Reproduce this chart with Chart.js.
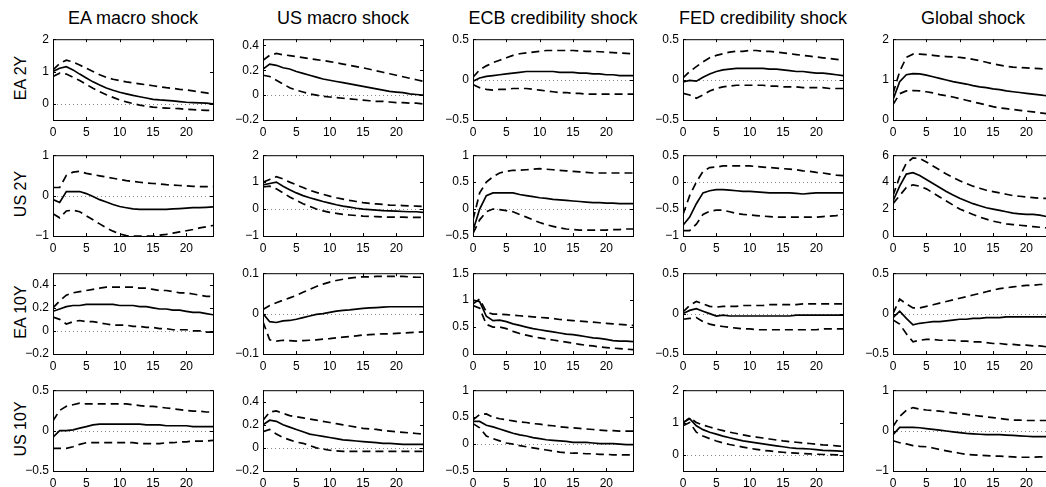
<!DOCTYPE html>
<html>
<head>
<meta charset="utf-8">
<script src="https://cdn.jsdelivr.net/npm/chart.js@4/dist/chart.umd.min.js"></script>
<style>
  body { margin: 0; background: #fff; width: 1046px; height: 487px; overflow: hidden; position: relative;
         font-family: "Liberation Sans", Arial, sans-serif; }
  .panel { position: absolute; }
  .title { position: absolute; font-size: 18px; text-align: center; width: 220px; white-space: nowrap; }
  .rowlab { position: absolute; font-size: 16px; width: 100px; text-align: center; transform: rotate(-90deg); white-space: nowrap; }
</style>
</head>
<body>
<script>
// horizon (months after shock)
const horizon = [0,1,2,3,4,5,6,7,8,9,10,11,12,13,14,15,16,17,18,19,20,21,22,23,24];
const xTicks = [0, 5, 10, 15, 20];

const shocks = ['EA macro shock', 'US macro shock', 'ECB credibility shock', 'FED credibility shock', 'Global shock'];
const yields = ['EA 2Y', 'US 2Y', 'EA 10Y', 'US 10Y'];

// ---- EA 2Y ----
const ea2y_eaMacro_mid = [1.0,1.1,1.15,1.05,0.92,0.8,0.68,0.58,0.49,0.42,0.36,0.31,0.26,0.22,0.18,0.14,0.12,0.11,0.09,0.07,0.05,0.04,0.03,0.02,0.0];
const ea2y_eaMacro_hi  = [1.05,1.25,1.35,1.3,1.2,1.1,1.0,0.9,0.82,0.76,0.72,0.68,0.65,0.62,0.59,0.56,0.53,0.5,0.48,0.45,0.43,0.4,0.37,0.34,0.3];
const ea2y_eaMacro_lo  = [0.85,0.95,0.92,0.82,0.72,0.6,0.48,0.38,0.28,0.2,0.12,0.06,0.01,-0.04,-0.07,-0.1,-0.12,-0.13,-0.14,-0.15,-0.17,-0.18,-0.19,-0.2,-0.21];

const ea2y_usMacro_mid = [0.21,0.25,0.24,0.22,0.21,0.19,0.175,0.16,0.145,0.13,0.12,0.11,0.1,0.09,0.08,0.07,0.06,0.05,0.04,0.03,0.025,0.02,0.01,0.005,0.0];
const ea2y_usMacro_hi  = [0.28,0.32,0.335,0.325,0.318,0.31,0.302,0.294,0.286,0.278,0.27,0.26,0.25,0.24,0.23,0.22,0.208,0.196,0.184,0.172,0.16,0.148,0.136,0.124,0.112];
const ea2y_usMacro_lo  = [0.16,0.15,0.12,0.09,0.06,0.04,0.025,0.01,0.0,-0.01,-0.015,-0.02,-0.025,-0.03,-0.035,-0.04,-0.045,-0.05,-0.05,-0.055,-0.06,-0.06,-0.065,-0.065,-0.07];

const ea2y_ecbCred_mid = [-0.02,0.02,0.04,0.05,0.06,0.07,0.08,0.09,0.1,0.1,0.1,0.1,0.1,0.09,0.09,0.09,0.08,0.08,0.07,0.07,0.06,0.06,0.05,0.05,0.05];
const ea2y_ecbCred_hi  = [0.03,0.12,0.17,0.21,0.24,0.27,0.3,0.32,0.33,0.34,0.35,0.36,0.36,0.36,0.36,0.36,0.355,0.35,0.35,0.345,0.34,0.335,0.33,0.325,0.32];
const ea2y_ecbCred_lo  = [-0.06,-0.1,-0.12,-0.13,-0.12,-0.12,-0.11,-0.11,-0.11,-0.12,-0.13,-0.14,-0.15,-0.16,-0.16,-0.17,-0.17,-0.18,-0.18,-0.18,-0.18,-0.18,-0.18,-0.18,-0.18];

const ea2y_fedCred_mid = [-0.03,-0.01,-0.02,0.03,0.07,0.1,0.12,0.13,0.14,0.14,0.14,0.14,0.14,0.13,0.13,0.12,0.11,0.1,0.1,0.09,0.08,0.08,0.07,0.06,0.05];
const ea2y_fedCred_hi  = [0.02,0.1,0.16,0.22,0.27,0.3,0.32,0.34,0.35,0.35,0.36,0.36,0.35,0.35,0.34,0.33,0.32,0.31,0.3,0.29,0.28,0.27,0.26,0.25,0.24];
const ea2y_fedCred_lo  = [-0.17,-0.19,-0.23,-0.19,-0.14,-0.11,-0.09,-0.08,-0.07,-0.07,-0.07,-0.07,-0.07,-0.08,-0.08,-0.09,-0.09,-0.09,-0.1,-0.1,-0.1,-0.1,-0.11,-0.11,-0.11];

const ea2y_global_mid = [0.5,0.95,1.12,1.15,1.14,1.11,1.07,1.03,0.99,0.95,0.92,0.89,0.85,0.82,0.8,0.77,0.75,0.72,0.7,0.68,0.66,0.64,0.62,0.6,0.59];
const ea2y_global_hi  = [0.65,1.2,1.55,1.63,1.63,1.62,1.6,1.58,1.57,1.56,1.55,1.53,1.5,1.47,1.43,1.39,1.36,1.33,1.31,1.3,1.29,1.28,1.27,1.26,1.25];
const ea2y_global_lo  = [0.38,0.65,0.72,0.73,0.72,0.7,0.67,0.63,0.6,0.57,0.53,0.49,0.45,0.41,0.37,0.33,0.3,0.28,0.26,0.24,0.22,0.2,0.18,0.16,0.14];

// ---- US 2Y ----
const us2y_eaMacro_mid = [-0.1,-0.17,0.1,0.1,0.1,0.05,-0.02,-0.1,-0.16,-0.22,-0.27,-0.3,-0.33,-0.34,-0.34,-0.34,-0.34,-0.34,-0.33,-0.32,-0.31,-0.3,-0.3,-0.29,-0.28];
const us2y_eaMacro_hi  = [0.2,0.2,0.5,0.58,0.6,0.55,0.52,0.49,0.46,0.43,0.4,0.37,0.35,0.33,0.31,0.3,0.29,0.27,0.26,0.25,0.24,0.23,0.22,0.22,0.22];
const us2y_eaMacro_lo  = [-0.45,-0.55,-0.38,-0.36,-0.4,-0.5,-0.6,-0.7,-0.8,-0.88,-0.95,-0.99,-1.0,-1.0,-1.0,-1.0,-0.98,-0.96,-0.93,-0.9,-0.87,-0.84,-0.8,-0.77,-0.74];

const us2y_usMacro_mid = [0.9,0.95,1.0,0.85,0.72,0.6,0.5,0.42,0.35,0.28,0.22,0.16,0.11,0.07,0.03,0.0,-0.02,-0.04,-0.06,-0.07,-0.08,-0.09,-0.1,-0.1,-0.12];
const us2y_usMacro_hi  = [1.0,1.1,1.2,1.12,1.0,0.9,0.8,0.7,0.62,0.55,0.48,0.42,0.37,0.32,0.28,0.24,0.21,0.19,0.17,0.15,0.14,0.13,0.12,0.11,0.1];
const us2y_usMacro_lo  = [0.82,0.85,0.75,0.6,0.45,0.32,0.2,0.1,0.0,-0.07,-0.12,-0.16,-0.2,-0.22,-0.24,-0.26,-0.27,-0.28,-0.29,-0.3,-0.3,-0.3,-0.31,-0.31,-0.31];

const us2y_ecbCred_mid = [-0.4,0.0,0.25,0.3,0.3,0.3,0.3,0.27,0.25,0.23,0.21,0.2,0.18,0.17,0.16,0.15,0.14,0.13,0.12,0.12,0.11,0.11,0.1,0.1,0.1];
const us2y_ecbCred_hi  = [-0.2,0.3,0.5,0.6,0.67,0.7,0.72,0.72,0.73,0.74,0.75,0.74,0.73,0.72,0.71,0.7,0.69,0.68,0.67,0.67,0.67,0.67,0.67,0.67,0.67];
const us2y_ecbCred_lo  = [-0.45,-0.2,-0.05,0.0,-0.01,-0.03,-0.05,-0.1,-0.15,-0.2,-0.25,-0.29,-0.32,-0.35,-0.37,-0.38,-0.39,-0.39,-0.39,-0.39,-0.39,-0.38,-0.38,-0.37,-0.37];

const us2y_fedCred_mid = [-0.8,-0.65,-0.4,-0.2,-0.16,-0.14,-0.14,-0.15,-0.16,-0.17,-0.17,-0.18,-0.19,-0.2,-0.2,-0.2,-0.2,-0.21,-0.22,-0.21,-0.2,-0.2,-0.2,-0.2,-0.2];
const us2y_fedCred_hi  = [-0.6,-0.25,0.0,0.2,0.27,0.28,0.3,0.3,0.3,0.3,0.3,0.29,0.28,0.27,0.26,0.25,0.24,0.23,0.21,0.2,0.18,0.17,0.15,0.13,0.12];
const us2y_fedCred_lo  = [-0.9,-0.9,-0.78,-0.6,-0.54,-0.52,-0.52,-0.55,-0.58,-0.6,-0.61,-0.62,-0.63,-0.64,-0.65,-0.65,-0.65,-0.65,-0.65,-0.65,-0.65,-0.64,-0.63,-0.62,-0.6];

const us2y_global_mid = [2.6,3.7,4.6,4.7,4.5,4.2,3.9,3.6,3.3,3.05,2.8,2.6,2.4,2.25,2.1,2.0,1.9,1.8,1.7,1.65,1.6,1.6,1.55,1.45,1.4];
const us2y_global_hi  = [3.0,4.4,5.4,5.8,5.75,5.5,5.2,4.9,4.6,4.35,4.1,3.9,3.7,3.55,3.4,3.3,3.2,3.1,3.0,2.95,2.9,2.85,2.8,2.8,2.8];
const us2y_global_lo  = [2.4,3.0,3.6,3.8,3.7,3.5,3.2,2.9,2.6,2.3,2.0,1.8,1.6,1.4,1.25,1.1,1.0,0.9,0.85,0.8,0.75,0.7,0.65,0.6,0.6];

// ---- EA 10Y ----
const ea10y_eaMacro_mid = [0.17,0.19,0.21,0.22,0.22,0.23,0.23,0.23,0.23,0.23,0.22,0.22,0.22,0.21,0.21,0.2,0.19,0.19,0.18,0.18,0.17,0.16,0.16,0.15,0.14];
const ea10y_eaMacro_hi  = [0.2,0.26,0.31,0.33,0.34,0.35,0.36,0.37,0.38,0.38,0.38,0.38,0.38,0.37,0.37,0.36,0.35,0.35,0.34,0.33,0.33,0.32,0.31,0.3,0.3];
const ea10y_eaMacro_lo  = [0.12,0.1,0.06,0.08,0.09,0.08,0.08,0.07,0.06,0.05,0.05,0.05,0.04,0.04,0.03,0.03,0.02,0.02,0.01,0.01,0.01,0.0,0.0,-0.01,-0.01];

const ea10y_usMacro_mid = [0.0,-0.02,-0.022,-0.018,-0.017,-0.014,-0.01,-0.006,-0.002,0.0,0.003,0.006,0.008,0.009,0.011,0.013,0.014,0.015,0.016,0.017,0.017,0.017,0.017,0.017,0.017];
const ea10y_usMacro_hi  = [0.01,0.02,0.027,0.033,0.039,0.045,0.053,0.06,0.067,0.073,0.078,0.082,0.085,0.088,0.09,0.091,0.091,0.092,0.092,0.092,0.092,0.092,0.091,0.09,0.09];
const ea10y_usMacro_lo  = [-0.02,-0.065,-0.068,-0.066,-0.067,-0.068,-0.067,-0.066,-0.065,-0.063,-0.062,-0.06,-0.058,-0.057,-0.055,-0.053,-0.052,-0.051,-0.05,-0.05,-0.049,-0.048,-0.047,-0.046,-0.045];

const ea10y_ecbCred_mid = [1.0,0.97,0.7,0.62,0.63,0.6,0.56,0.53,0.5,0.47,0.45,0.43,0.41,0.39,0.37,0.36,0.34,0.32,0.3,0.29,0.27,0.25,0.24,0.24,0.23];
const ea10y_ecbCred_hi  = [0.93,1.02,0.78,0.74,0.74,0.73,0.72,0.71,0.7,0.69,0.68,0.67,0.66,0.64,0.63,0.62,0.61,0.6,0.59,0.58,0.57,0.56,0.55,0.54,0.53];
const ea10y_ecbCred_lo  = [0.9,0.85,0.55,0.5,0.5,0.47,0.42,0.38,0.35,0.32,0.3,0.28,0.26,0.24,0.22,0.2,0.18,0.16,0.15,0.13,0.12,0.11,0.1,0.09,0.08];

const ea10y_fedCred_mid = [0.0,0.04,0.06,0.03,0.0,-0.03,-0.02,-0.03,-0.03,-0.03,-0.03,-0.03,-0.03,-0.03,-0.03,-0.03,-0.03,-0.02,-0.02,-0.02,-0.02,-0.02,-0.02,-0.02,-0.02];
const ea10y_fedCred_hi  = [0.02,0.1,0.15,0.12,0.09,0.08,0.09,0.09,0.09,0.1,0.1,0.1,0.1,0.11,0.11,0.11,0.11,0.11,0.12,0.12,0.12,0.12,0.12,0.12,0.12];
const ea10y_fedCred_lo  = [-0.07,-0.06,-0.05,-0.1,-0.13,-0.15,-0.16,-0.17,-0.18,-0.19,-0.19,-0.2,-0.2,-0.2,-0.2,-0.2,-0.2,-0.2,-0.2,-0.2,-0.2,-0.19,-0.19,-0.19,-0.19];

const ea10y_global_mid = [-0.05,0.03,-0.06,-0.14,-0.12,-0.11,-0.1,-0.1,-0.09,-0.08,-0.07,-0.07,-0.06,-0.06,-0.05,-0.05,-0.05,-0.04,-0.04,-0.04,-0.04,-0.04,-0.04,-0.04,-0.04];
const ea10y_global_hi  = [0.0,0.18,0.12,0.07,0.07,0.09,0.11,0.13,0.15,0.17,0.19,0.21,0.23,0.25,0.27,0.29,0.31,0.32,0.33,0.34,0.35,0.35,0.36,0.36,0.36];
const ea10y_global_lo  = [-0.08,-0.13,-0.25,-0.35,-0.33,-0.32,-0.32,-0.33,-0.33,-0.33,-0.34,-0.34,-0.35,-0.35,-0.36,-0.37,-0.37,-0.38,-0.38,-0.39,-0.39,-0.4,-0.4,-0.41,-0.41];

// ---- US 10Y ----
const us10y_eaMacro_mid = [-0.08,0.0,0.0,0.01,0.03,0.05,0.07,0.08,0.08,0.08,0.08,0.08,0.08,0.08,0.07,0.07,0.07,0.06,0.06,0.06,0.06,0.05,0.05,0.05,0.05];
const us10y_eaMacro_hi  = [0.12,0.25,0.3,0.32,0.34,0.33,0.33,0.33,0.33,0.33,0.33,0.33,0.32,0.31,0.3,0.3,0.29,0.28,0.27,0.26,0.25,0.24,0.24,0.23,0.23];
const us10y_eaMacro_lo  = [-0.22,-0.22,-0.22,-0.2,-0.17,-0.15,-0.15,-0.15,-0.15,-0.15,-0.15,-0.15,-0.15,-0.16,-0.16,-0.16,-0.16,-0.15,-0.15,-0.14,-0.14,-0.13,-0.13,-0.13,-0.12];

const us10y_usMacro_mid = [0.2,0.24,0.23,0.2,0.18,0.16,0.14,0.12,0.11,0.1,0.09,0.08,0.07,0.065,0.06,0.055,0.05,0.045,0.04,0.04,0.035,0.03,0.03,0.03,0.03];
const us10y_usMacro_hi  = [0.24,0.31,0.32,0.3,0.28,0.27,0.26,0.25,0.24,0.23,0.22,0.21,0.2,0.19,0.18,0.17,0.165,0.16,0.15,0.145,0.14,0.135,0.13,0.125,0.12];
const us10y_usMacro_lo  = [0.14,0.16,0.12,0.09,0.07,0.05,0.04,0.02,0.0,-0.01,-0.02,-0.025,-0.03,-0.03,-0.03,-0.03,-0.03,-0.03,-0.03,-0.03,-0.03,-0.03,-0.03,-0.03,-0.03];

const us10y_ecbCred_mid = [0.42,0.42,0.35,0.32,0.28,0.24,0.2,0.17,0.15,0.12,0.1,0.08,0.07,0.06,0.05,0.03,0.03,0.03,0.02,0.01,0.01,0.01,0.0,-0.01,-0.01];
const us10y_ecbCred_hi  = [0.45,0.55,0.56,0.5,0.47,0.45,0.43,0.41,0.4,0.38,0.37,0.35,0.34,0.32,0.31,0.3,0.29,0.28,0.27,0.26,0.25,0.25,0.24,0.24,0.24];
const us10y_ecbCred_lo  = [0.38,0.3,0.15,0.1,0.06,0.02,0.0,-0.03,-0.05,-0.07,-0.09,-0.11,-0.13,-0.15,-0.16,-0.17,-0.17,-0.18,-0.18,-0.19,-0.19,-0.2,-0.2,-0.2,-0.2];

const us10y_fedCred_mid = [1.0,1.12,0.9,0.78,0.7,0.64,0.58,0.53,0.48,0.43,0.4,0.37,0.34,0.31,0.28,0.25,0.22,0.2,0.19,0.18,0.16,0.14,0.13,0.12,0.11];
const us10y_fedCred_hi  = [0.98,1.15,1.0,0.92,0.86,0.8,0.75,0.7,0.66,0.62,0.58,0.55,0.52,0.49,0.46,0.43,0.41,0.39,0.37,0.35,0.33,0.31,0.3,0.28,0.26];
const us10y_fedCred_lo  = [0.9,1.0,0.7,0.58,0.5,0.43,0.37,0.32,0.28,0.24,0.2,0.17,0.14,0.12,0.1,0.08,0.06,0.05,0.04,0.03,0.02,0.01,0.01,0.0,0.0];

const us10y_global_mid = [-0.1,0.08,0.08,0.08,0.07,0.05,0.03,0.01,-0.01,-0.03,-0.05,-0.07,-0.08,-0.09,-0.1,-0.1,-0.1,-0.11,-0.12,-0.13,-0.14,-0.15,-0.15,-0.15,-0.15];
const us10y_global_hi  = [0.1,0.35,0.5,0.57,0.53,0.51,0.5,0.48,0.46,0.44,0.42,0.4,0.38,0.36,0.34,0.32,0.3,0.28,0.26,0.26,0.25,0.25,0.25,0.25,0.25];
const us10y_global_lo  = [-0.25,-0.3,-0.33,-0.37,-0.39,-0.4,-0.43,-0.47,-0.5,-0.53,-0.56,-0.59,-0.6,-0.61,-0.62,-0.63,-0.63,-0.64,-0.65,-0.66,-0.66,-0.66,-0.65,-0.65,-0.65];

// y limits and tick labels, one entry per shock column
const ea2y_lim    = [[-0.5,2],[-0.2,0.45],[-0.5,0.5],[-0.5,0.5],[0,2]];
const ea2y_ticks  = [[0,1,2],[-0.2,0,0.2,0.4],[-0.5,0,0.5],[-0.5,0,0.5],[0,1,2]];
const us2y_lim    = [[-1,1],[-1,2],[-0.5,1],[-1,0.5],[0,6]];
const us2y_ticks  = [[-1,0,1],[-1,0,1,2],[-0.5,0,0.5,1],[-1,-0.5,0,0.5],[0,2,4,6]];
const ea10y_lim   = [[-0.2,0.5],[-0.1,0.1],[0,1.5],[-0.5,0.5],[-0.5,0.5]];
const ea10y_ticks = [[-0.2,0,0.2,0.4],[-0.1,0,0.1],[0,0.5,1,1.5],[-0.5,0,0.5],[-0.5,0,0.5]];
const us10y_lim   = [[-0.5,0.5],[-0.2,0.5],[-0.5,1],[-0.5,2],[-1,1]];
const us10y_ticks = [[-0.5,0,0.5],[-0.2,0,0.2,0.4],[-0.5,0,0.5,1],[0,1,2],[-1,0,1]];

const grid = [
  [[ea2y_eaMacro_lo, ea2y_eaMacro_mid, ea2y_eaMacro_hi], [ea2y_usMacro_lo, ea2y_usMacro_mid, ea2y_usMacro_hi],
   [ea2y_ecbCred_lo, ea2y_ecbCred_mid, ea2y_ecbCred_hi], [ea2y_fedCred_lo, ea2y_fedCred_mid, ea2y_fedCred_hi],
   [ea2y_global_lo, ea2y_global_mid, ea2y_global_hi]],
  [[us2y_eaMacro_lo, us2y_eaMacro_mid, us2y_eaMacro_hi], [us2y_usMacro_lo, us2y_usMacro_mid, us2y_usMacro_hi],
   [us2y_ecbCred_lo, us2y_ecbCred_mid, us2y_ecbCred_hi], [us2y_fedCred_lo, us2y_fedCred_mid, us2y_fedCred_hi],
   [us2y_global_lo, us2y_global_mid, us2y_global_hi]],
  [[ea10y_eaMacro_lo, ea10y_eaMacro_mid, ea10y_eaMacro_hi], [ea10y_usMacro_lo, ea10y_usMacro_mid, ea10y_usMacro_hi],
   [ea10y_ecbCred_lo, ea10y_ecbCred_mid, ea10y_ecbCred_hi], [ea10y_fedCred_lo, ea10y_fedCred_mid, ea10y_fedCred_hi],
   [ea10y_global_lo, ea10y_global_mid, ea10y_global_hi]],
  [[us10y_eaMacro_lo, us10y_eaMacro_mid, us10y_eaMacro_hi], [us10y_usMacro_lo, us10y_usMacro_mid, us10y_usMacro_hi],
   [us10y_ecbCred_lo, us10y_ecbCred_mid, us10y_ecbCred_hi], [us10y_fedCred_lo, us10y_fedCred_mid, us10y_fedCred_hi],
   [us10y_global_lo, us10y_global_mid, us10y_global_hi]]
];
const limits = [ea2y_lim, us2y_lim, ea10y_lim, us10y_lim];
const yTicks = [ea2y_ticks, us2y_ticks, ea10y_ticks, us10y_ticks];

// panel placement (plot area corners)
const colLeft = [53, 263, 473, 683, 893];
const rowTop = [36, 152, 270, 387];
const plotW = 160, plotH = 84;
const padL = 40, padR = 8, padT = 8, padB = 22;
const font = { family: '"Liberation Sans", Arial, sans-serif', size: 12 };

function fmt(v) {
  return String(Math.round(v * 100) / 100).replace('-', '\u2212');
}

// zero line, box and inward tick marks like matlab axes
const frame = {
  id: 'frame',
  beforeDatasetsDraw(chart) {
    const { ctx, chartArea: a, scales: { y } } = chart;
    const z = Math.round(y.getPixelForValue(0)) + 0.5;
    ctx.save();
    ctx.strokeStyle = '#888';
    ctx.lineWidth = 1;
    ctx.setLineDash([1, 3]);
    ctx.beginPath();
    ctx.moveTo(a.left, z);
    ctx.lineTo(a.right, z);
    ctx.stroke();
    ctx.restore();
  },
  afterDraw(chart) {
    const { ctx, chartArea: a, scales: { x, y } } = chart;
    ctx.save();
    ctx.strokeStyle = '#000';
    ctx.lineWidth = 1;
    ctx.strokeRect(a.left + 0.5, a.top + 0.5, a.right - a.left, a.bottom - a.top);
    ctx.beginPath();
    x.ticks.forEach(t => {
      const px = Math.round(x.getPixelForValue(t.value)) + 0.5;
      ctx.moveTo(px, a.bottom); ctx.lineTo(px, a.bottom - 3);
      ctx.moveTo(px, a.top); ctx.lineTo(px, a.top + 3);
    });
    y.ticks.forEach(t => {
      const py = Math.round(y.getPixelForValue(t.value)) + 0.5;
      ctx.moveTo(a.left, py); ctx.lineTo(a.left + 3, py);
      ctx.moveTo(a.right, py); ctx.lineTo(a.right - 3, py);
    });
    ctx.stroke();
    ctx.restore();
  }
};

shocks.forEach((s, c) => {
  const t = document.createElement('div');
  t.className = 'title';
  t.textContent = s;
  t.style.left = (colLeft[c] + plotW / 2 - 110) + 'px';
  t.style.top = '8px';
  document.body.appendChild(t);
});

yields.forEach((lab, r) => {
  const d = document.createElement('div');
  d.className = 'rowlab';
  d.textContent = lab;
  d.style.left = (21 - 50) + 'px';
  d.style.top = (rowTop[r] + plotH / 2 - 9) + 'px';
  document.body.appendChild(d);
});

for (let r = 0; r < 4; r++) {
  for (let c = 0; c < 5; c++) {
    const [lo, mid, hi] = grid[r][c];
    const box = document.createElement('div');
    box.className = 'panel';
    box.style.left = (colLeft[c] - padL) + 'px';
    box.style.top = (rowTop[r] - padT) + 'px';
    const cv = document.createElement('canvas');
    cv.width = plotW + padL + padR;
    cv.height = plotH + padT + padB;
    box.appendChild(cv);
    document.body.appendChild(box);

    const dashed = { borderColor: '#000', borderWidth: 1.7, borderDash: [8, 5], pointRadius: 0, fill: false };
    new Chart(cv, {
      type: 'line',
      data: {
        labels: horizon,
        datasets: [
          Object.assign({ label: 'upper', data: hi }, dashed),
          Object.assign({ label: 'lower', data: lo }, dashed),
          { label: 'median', data: mid, borderColor: '#000', borderWidth: 1.7, pointRadius: 0, fill: false }
        ]
      },
      options: {
        responsive: false,
        animation: false,
        devicePixelRatio: 1,
        layout: { padding: { top: padT, right: padR, left: 0, bottom: 0 } },
        plugins: { legend: { display: false }, tooltip: { enabled: false } },
        scales: {
          x: {
            type: 'linear', min: 0, max: 24,
            afterBuildTicks: sc => { sc.ticks = xTicks.map(v => ({ value: v })); },
            afterFit: sc => { sc.height = padB; },
            grid: { display: false, drawTicks: false },
            border: { display: false },
            ticks: { color: '#000', font: font, padding: 5, maxRotation: 0, callback: v => fmt(v) }
          },
          y: {
            min: limits[r][c][0], max: limits[r][c][1],
            afterBuildTicks: sc => { sc.ticks = yTicks[r][c].map(v => ({ value: v })); },
            afterFit: sc => { sc.width = padL; },
            grid: { display: false, drawTicks: false },
            border: { display: false },
            ticks: { color: '#000', font: font, padding: 4, callback: v => fmt(v) }
          }
        }
      },
      plugins: [frame]
    });
  }
}
</script>
</body>
</html>
